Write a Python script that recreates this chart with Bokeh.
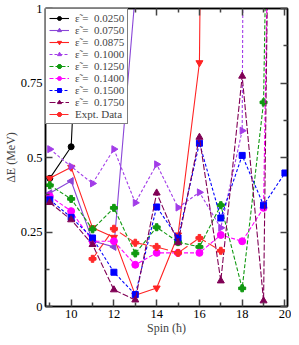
from bokeh.plotting import figure
from bokeh.models import FixedTicker, LinearAxis, Range1d, Legend, LegendItem, CustomJSTickFormatter
from bokeh.embed import file_html
from bokeh.resources import INLINE

e0250_x = [9, 10, 11]
e0250_y = [0.43, 0.536, 2.05]

e0750_x = [9, 10, 11, 12, 13]
e0750_y = [0.38, 0.421, 0.22, 0.20, 1.05]

e0875_x = [9, 10, 11, 12, 13, 14, 15, 16, 17]
e0875_y = [0.43, 0.467, 0.264, 0.232, 0.038, 0.062, 0.24, 0.818, 8.0]

e1000_x = [9, 10, 11, 12, 13, 14, 15, 16, 17, 18, 19]
e1000_y = [0.528, 0.47, 0.413, 0.528, 0.348, 0.477, 0.332, 0.383, 0.264, 0.59, 15.0]

e1250_x = [9, 10, 11, 12, 13, 14, 15, 16, 17, 18, 19, 20]
e1250_y = [0.407, 0.361, 0.259, 0.331, 0.178, 0.266, 0.216, 0.20, 0.34, 0.061, 0.685, 5.0]

e1400_x = [9, 10, 11, 12, 13, 14, 15, 16, 17, 18, 19, 20]
e1400_y = [0.37, 0.32, 0.219, 0.219, 0.14, 0.18, 0.18, 0.18, 0.24, 0.219, 0.331, 4.8]

e1500_x = [9, 10, 11, 12, 13, 14, 15, 16, 17, 18, 19, 20]
e1500_y = [0.358, 0.299, 0.23, 0.115, 0.04, 0.334, 0.23, 0.548, 0.297, 0.507, 0.34, 0.448]

e1750_x = [9, 10, 11, 12, 13, 14, 15, 16, 17, 18, 19, 20]
e1750_y = [0.349, 0.291, 0.208, 0.056, 0.022, 0.381, 0.214, 0.568, 0.086, 0.773, 0.019, 5.8]

expt_x = [11, 12, 13, 14, 15, 16, 17]
expt_y = [0.16, 0.261, 0.214, 0.20, 0.18, 0.23, 0.187]

labels = ["ε̃ =  0.0250", "ε̃ =  0.0750", "ε̃ =  0.0875", "ε̃ =  0.1000",
          "ε̃ =  0.1250", "ε̃ =  0.1400", "ε̃ =  0.1500", "ε̃ =  0.1750", "Expt. Data"]

x_major = [10, 12, 14, 16, 18, 20]
x_minor = [9, 11, 13, 15, 17, 19]
y_major = [0, 0.25, 0.5, 0.75, 1]
y_minor = [0.125, 0.375, 0.625, 0.875]
y_tick_labels = {0: "0", 0.25: "0.25", 0.5: "0.5", 0.75: "0.75", 1: "1"}

FONT = "Liberation Serif"

p = figure(width=291, height=337, output_backend="svg", toolbar_location=None,
           x_range=Range1d(8.8, 20.12), y_range=Range1d(0, 1),
           min_border_left=2, min_border_right=4, min_border_top=8, min_border_bottom=2)
p.grid.visible = False
p.background_fill_color = "white"
p.border_fill_color = "white"
p.outline_line_color = "black"
p.outline_line_width = 1.5

series = [
    (e0250_x, e0250_y, "black", "solid", "circle", 6),
    (e0750_x, e0750_y, "#8a46d8", "solid", "triangle", 7),
    (e0875_x, e0875_y, "#ff2222", "solid", "inverted_triangle", 7),
    (e1000_x, e1000_y, "#a23ce8", "3 2", "triangle", 7),
    (e1250_x, e1250_y, "#119911", "4 2", "plus", 7),
    (e1400_x, e1400_y, "#ff00ff", "4 2", "circle", 7),
    (e1500_x, e1500_y, "#0000ff", "3 2", "square", 6),
    (e1750_x, e1750_y, "#800055", "6 2", "triangle", 7),
    (expt_x, expt_y, "#ff2a2a", "8 3", "plus", 7),
]
angles = [0, 1.5708, 0, -1.5708, 0, 0, 0, 0, 0]

items = []
for i, (xs, ys, col, dash, mk, sz) in enumerate(series):
    r1 = p.line(xs, ys, line_color=col, line_dash=dash, line_width=1.1)
    r2 = p.scatter(xs, ys, marker=mk, size=sz, fill_color=col, line_color=col, angle=angles[i])
    rs = [r1, r2]
    if mk == "plus":
        r3 = p.scatter(xs, ys, marker="circle", size=4.5, fill_color=col, line_color=col)
        rs.append(r3)
    items.append(LegendItem(label=labels[i], renderers=rs))

legend = Legend(items=items, location="top_left", label_text_font=FONT,
                label_text_font_size="11px", glyph_height=10, label_height=10,
                glyph_width=20, spacing=0, padding=3, margin=0,
                border_line_color="black", border_line_width=1,
                background_fill_alpha=1.0, label_standoff=6)
p.add_layout(legend, "center")

xt = FixedTicker(ticks=x_major, minor_ticks=x_minor)
yt = FixedTicker(ticks=y_major, minor_ticks=y_minor)

def style(ax):
    ax.major_tick_in = 7
    ax.major_tick_out = 0
    ax.minor_tick_in = 4
    ax.minor_tick_out = 0
    ax.axis_line_color = "black"
    ax.axis_line_width = 1.5
    ax.major_tick_line_color = "#444444"
    ax.minor_tick_line_color = "#444444"
    ax.major_tick_line_width = 1.5
    ax.minor_tick_line_width = 1.5
    ax.major_label_text_font = FONT
    ax.major_label_text_font_size = "12.5px"
    ax.major_label_text_color = "black"
    ax.axis_label_text_font = FONT
    ax.axis_label_text_font_size = "12px"
    ax.axis_label_text_font_style = "normal"
    ax.axis_label_standoff = 0
    ax.major_label_standoff = 3

xa = p.xaxis[0]
xa.ticker = xt
xa.axis_label = "Spin (ħ)"
style(xa)
ya = p.yaxis[0]
ya.ticker = yt
ya.axis_label = "ΔE (MeV)"
ya.major_label_overrides = y_tick_labels
style(ya)

blank = CustomJSTickFormatter(code="return '';")
top = LinearAxis(ticker=xt, formatter=blank)
style(top)
top.major_label_standoff = 0
p.add_layout(top, "above")
right = LinearAxis(ticker=yt, formatter=blank)
style(right)
right.major_label_standoff = 0
p.add_layout(right, "right")

open("out.html", "w").write(file_html(p, INLINE))
